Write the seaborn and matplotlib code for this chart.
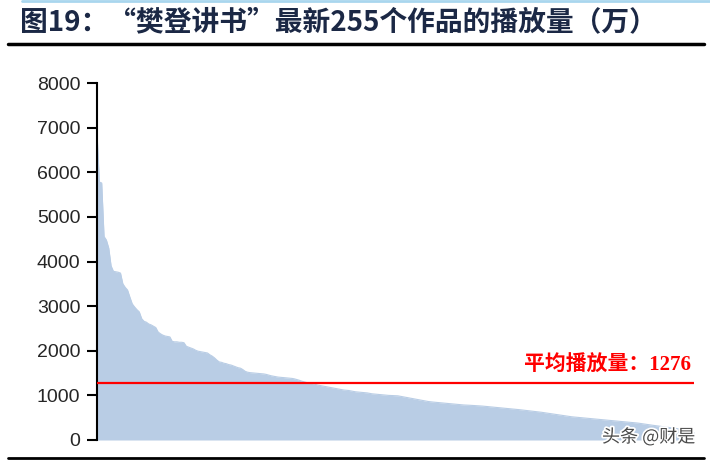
import matplotlib
matplotlib.use("Agg")
import matplotlib.pyplot as plt
import matplotlib.patheffects as pe
import numpy as np
import pandas as pd
import seaborn as sns

# play counts (10k) of the latest 255 works, sorted descending
views = [
    6900, 5780, 5760, 4560, 4480, 4300, 3900, 3780, 3770, 3760, 3740, 3500, 3420, 3360, 3200,
    3050, 2980, 2920, 2870, 2720, 2660, 2640, 2600, 2580, 2550, 2520, 2420, 2380, 2350, 2330,
    2320, 2310, 2210, 2200, 2200, 2190, 2190, 2180, 2100, 2080, 2060, 2040, 2010, 1990, 1980,
    1970, 1960, 1950, 1910, 1880, 1840, 1790, 1750, 1740, 1720, 1710, 1690, 1680, 1660, 1640,
    1620, 1610, 1580, 1540, 1520, 1510, 1505, 1500, 1495, 1490, 1485, 1480, 1470, 1455, 1440,
    1430, 1420, 1410, 1405, 1400, 1395, 1390, 1385, 1380, 1370, 1355, 1340, 1320, 1305, 1290,
    1280, 1270, 1260, 1245, 1230, 1220, 1210, 1200, 1190, 1180, 1170, 1160, 1150, 1140, 1130,
    1120, 1115, 1110, 1100, 1090, 1080, 1075, 1070, 1065, 1060, 1055, 1045, 1035, 1030, 1025,
    1020, 1015, 1010, 1005, 1000, 998, 995, 992, 990, 980, 970, 960, 950, 940, 930,
    920, 910, 900, 890, 880, 870, 862, 855, 850, 845, 840, 835, 830, 825, 820,
    815, 810, 805, 800, 795, 790, 785, 783, 780, 777, 774, 771, 768, 765, 760,
    755, 750, 745, 740, 735, 730, 725, 720, 715, 710, 705, 700, 695, 690, 684,
    678, 672, 666, 660, 654, 648, 642, 636, 630, 622, 614, 606, 598, 590, 582,
    574, 566, 558, 550, 542, 534, 527, 520, 515, 510, 505, 500, 495, 490, 485,
    480, 475, 470, 465, 460, 455, 450, 445, 440, 435, 430, 425, 420, 415, 410,
    405, 400, 395, 390, 385, 380, 372, 364, 356, 348, 340, 333, 326, 319, 312,
    305, 298, 291, 284, 277, 270, 262, 254, 246, 238, 230, 220, 210, 195, 180,
]
avg_views = 1276
yticks = [0, 1000, 2000, 3000, 4000, 5000, 6000, 7000, 8000]

title = "图19：“樊登讲书”最新255个作品的播放量（万）"
avg_label = "平均播放量：" + str(avg_views)
watermark = "头条 @财是"

df = pd.DataFrame({"rank": range(len(views)), "views": views})

sns.set_style("white")
plt.rcParams["font.family"] = ["Liberation Sans", "Noto Sans CJK SC", "DejaVu Sans"]

fig = plt.figure(figsize=(7.1, 4.62), dpi=100)
W, H = 710, 462
ax = fig.add_axes([97 / W, (H - 440) / H, (694 - 97) / W, (440 - 83) / H])

sns.lineplot(data=df, x="rank", y="views", ax=ax, color="#b9cde5", linewidth=0.8)
ax.fill_between(df["rank"], 0, df["views"], color="#b9cde5", linewidth=0)
ax.axhline(avg_views, color="#ff0000", linewidth=1.6, zorder=3)

ax.set_xlim(0, len(views) - 1)
ax.set_ylim(0, 8000)
ax.set_yticks(yticks)
ax.set_xticks([])
ax.set_xlabel("")
ax.set_ylabel("")
ax.tick_params(axis="y", direction="out", length=7, width=1.5, color="black",
               labelsize=14, pad=5, left=True)
for s in ["top", "right", "bottom"]:
    ax.spines[s].set_visible(False)
ax.spines["left"].set_color("black")
ax.spines["left"].set_linewidth(1.5)

ax.text(0.995, avg_views + 170, avg_label, transform=ax.get_yaxis_transform(),
        ha="right", va="bottom", color="#ff0000", fontsize=15, fontweight="bold",
        family=["Liberation Serif", "Noto Sans CJK SC"])

# header and footer rules
fig.add_artist(plt.Line2D([22 / W, 1], [1 - 1 / H, 1 - 1 / H], color="#a9d6ee", linewidth=2))
fig.add_artist(plt.Line2D([8 / W, 704 / W], [1 - 44 / H, 1 - 44 / H], color="black", linewidth=2.5))
fig.add_artist(plt.Line2D([8 / W, 704 / W], [1 - 458 / H, 1 - 458 / H], color="black", linewidth=2))

fig.text(20 / W, 1 - 22 / H, title, ha="left", va="center", fontsize=20,
         fontweight="bold", color="#1b2845",
         family=["Noto Sans CJK SC", "DejaVu Sans"])

fig.text(695 / W, 1 - 437 / H, watermark, ha="right", va="center", fontsize=13,
         color="#4a4a4a", family=["Noto Sans CJK SC", "DejaVu Sans"],
         path_effects=[pe.withStroke(linewidth=2.5, foreground="white")])

fig.savefig("out.png", dpi=100)
